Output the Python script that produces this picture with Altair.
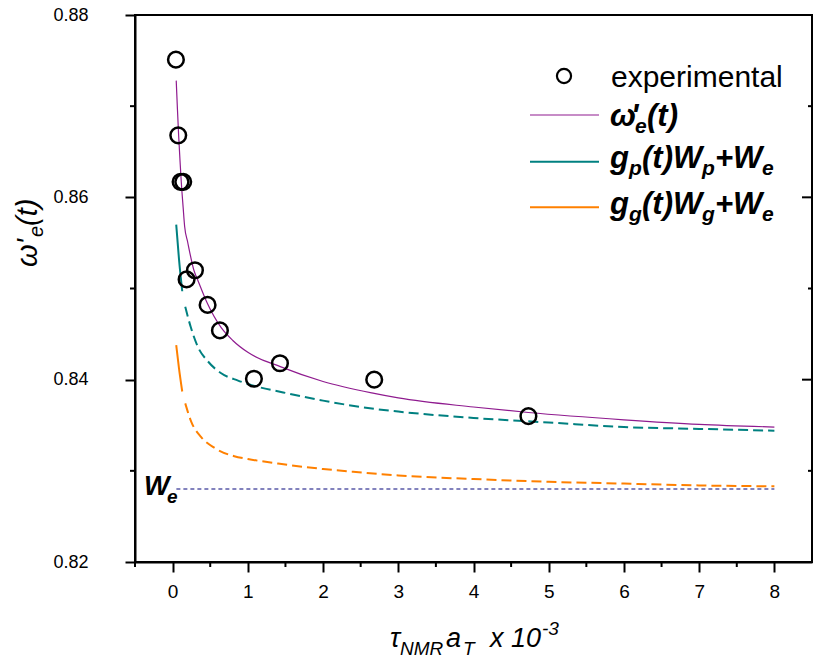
import altair as alt
import pandas as pd

FONT = "Liberation Sans"
W, H = 677, 547

# experimental points
exp_x = [0.044, 0.075, 0.106, 0.141, 0.186, 0.297, 0.465, 0.629, 1.081, 1.427, 2.68, 4.73]
exp_y = [0.8751, 0.8668, 0.8617, 0.8617, 0.8510, 0.8520, 0.8482, 0.8454, 0.8401, 0.8418, 0.8400, 0.8360]

# omega'_e(t) curve
om_x = [0.048, 0.064, 0.08, 0.10, 0.115, 0.14, 0.16, 0.2, 0.283, 0.34, 0.46, 0.646, 0.8, 1.0, 1.44,
        2.0, 2.68, 3.0, 4.0, 4.73, 6.0, 7.0, 8.0]
om_y = [0.8728, 0.8697, 0.8668, 0.8638, 0.8617, 0.8589, 0.8568, 0.8551, 0.8520, 0.8508, 0.8484,
        0.8457, 0.8443, 0.8430, 0.8414, 0.8398, 0.8385, 0.8380, 0.8370, 0.8364, 0.8356, 0.8351, 0.8348]

# g_p(t)W_p + W_e curve (solid head + dashed tail)
gp_head_x = [0.048, 0.084, 0.128]
gp_head_y = [0.8570, 0.8533, 0.8497]
gp_x = [0.168, 0.24, 0.336, 0.47, 0.646, 0.87, 1.05, 1.47, 2.0, 2.68, 3.0, 4.0, 5.0, 6.0, 7.0, 8.0]
gp_y = [0.8480, 0.8458, 0.8436, 0.8420, 0.8407, 0.8399, 0.8394, 0.8386, 0.8377, 0.8368, 0.8365,
        0.8358, 0.8353, 0.8348, 0.8346, 0.8344]

# g_g(t)W_g + W_e curve
gg_head_x = [0.048, 0.084, 0.128]
gg_head_y = [0.8438, 0.8413, 0.8387]
gg_x = [0.168, 0.247, 0.38, 0.56, 0.82, 1.0, 1.4, 2.0, 2.4, 3.0, 4.0, 5.0, 6.0, 7.0, 8.0]
gg_y = [0.8374, 0.8354, 0.8337, 0.8325, 0.8316, 0.8313, 0.8308, 0.8302, 0.8299, 0.8295, 0.8291,
        0.8288, 0.8286, 0.8284, 0.8283]

# W_e level
we_x = [0.05, 8.0]
we_y = [0.828, 0.828]

x_major = [0, 1, 2, 3, 4, 5, 6, 7, 8]
x_minor = [-0.5, 0.5, 1.5, 2.5, 3.5, 4.5, 5.5, 6.5, 7.5]
y_major = [0.82, 0.84, 0.86, 0.88]
y_minor = [0.83, 0.85, 0.87]

C_OM = "#8f1b8f"
C_GP = "#008080"
C_GG = "#ff8000"
C_WE = "#5a5aa8"

X = alt.X("x:Q", scale=alt.Scale(domain=[-0.5, 8.5], nice=False, zero=False),
          axis=alt.Axis(values=x_major, tickSize=10, tickWidth=2, domainWidth=2,
                        domainColor="black", tickColor="black", labelFontSize=19,
                        labelFont=FONT, labelColor="black", labelPadding=10, grid=False,
                        title=None, labelFlush=False))
Y = alt.Y("y:Q", scale=alt.Scale(domain=[0.82, 0.88], nice=False, zero=False),
          axis=alt.Axis(values=y_major, format=".2f", tickSize=10, tickWidth=2, domainWidth=2,
                        domainColor="black", tickColor="black", labelFontSize=18,
                        labelFont=FONT, labelColor="black", labelPadding=37, grid=False,
                        title=None, labelFlush=False))


def df(xs, ys):
    return pd.DataFrame({"x": xs, "y": ys})


def line(xs, ys, color, width, dash=None):
    kw = dict(color=color, strokeWidth=width, interpolate="monotone")
    if dash:
        kw["strokeDash"] = dash
    return alt.Chart(df(xs, ys)).mark_line(**kw).encode(x=X, y=Y)


def txt(s, x, y, size, style="normal", weight="normal", angle=0, align="left"):
    kw = dict(align=align, baseline="alphabetic", fontSize=size, fontStyle=style,
              fontWeight=weight, font=FONT, color="black")
    if angle:
        kw["angle"] = angle
    return alt.Chart(pd.DataFrame({"t": [s]})).mark_text(**kw).encode(
        text="t:N", x=alt.value(x), y=alt.value(y))


one = pd.DataFrame({"a": [0]})

layers = []
# minor ticks and right-side ticks
layers.append(alt.Chart(pd.DataFrame({"x": x_minor})).mark_rule(color="black", strokeWidth=2)
              .encode(x=X, y=alt.value(H), y2=alt.value(H + 5)))
layers.append(alt.Chart(pd.DataFrame({"y": y_minor})).mark_rule(color="black", strokeWidth=2)
              .encode(y=Y, x=alt.value(-5), x2=alt.value(0)))
layers.append(alt.Chart(pd.DataFrame({"y": y_minor})).mark_rule(color="black", strokeWidth=2)
              .encode(y=Y, x=alt.value(W - 4), x2=alt.value(W)))
layers.append(alt.Chart(pd.DataFrame({"y": y_major})).mark_rule(color="black", strokeWidth=2)
              .encode(y=Y, x=alt.value(W - 10), x2=alt.value(W)))

# curves
layers.append(line(we_x, we_y, C_WE, 1.5, [4, 3]))
layers.append(line(gg_head_x, gg_head_y, C_GG, 2))
layers.append(line(gg_x, gg_y, C_GG, 2, [10, 5]))
layers.append(line(gp_head_x, gp_head_y, C_GP, 2))
layers.append(line(gp_x, gp_y, C_GP, 2, [10, 5]))
layers.append(line(om_x, om_y, C_OM, 1.2))
layers.append(alt.Chart(df(exp_x, exp_y)).mark_point(shape="circle", filled=False, size=245,
                                                      strokeWidth=2.5, color="black", opacity=1)
              .encode(x=X, y=Y))

# legend
layers.append(alt.Chart(one).mark_point(shape="circle", filled=False, size=200, strokeWidth=2.2,
                                        color="black", opacity=1)
              .encode(x=alt.value(429), y=alt.value(61)))
for yy, cc, ww in [(100, C_OM, 1.2), (146.7, C_GP, 2), (192.3, C_GG, 2)]:
    layers.append(alt.Chart(one).mark_rule(color=cc, strokeWidth=ww)
                  .encode(x=alt.value(395), x2=alt.value(464), y=alt.value(yy)))

BI = dict(style="italic", weight="bold")
layers.append(txt("experimental", 476, 72, 30))
# row 2: omega'_e(t)
layers.append(txt("ω", 475, 111, 31, **BI))
layers.append(txt("'", 496, 111, 31, **BI))
layers.append(txt("e", 500, 118, 21, **BI))
layers.append(txt("(t)", 512, 111, 31, **BI))
# row 3: g_p(t)W_p+W_e and row 4: g_g(t)W_g+W_e
for base, sub in [(153, "p"), (199, "g")]:
    layers.append(txt("g", 475, base, 31, **BI))
    layers.append(txt(sub, 494, base + 7, 21, **BI))
    layers.append(txt("(t)W", 507, base, 31, **BI))
    layers.append(txt(sub, 567, base + 7, 21, **BI))
    layers.append(txt("+W", 580, base, 31, **BI))
    layers.append(txt("e", 627, base + 7, 21, **BI))

# W_e label
layers.append(txt("W", 9, 480, 27, **BI))
layers.append(txt("e", 32, 488, 19, **BI))

# x axis title: tau_NMR a_T x 10^-3
layers.append(txt("τ", 255, 632, 27, style="italic"))
layers.append(txt("NMR", 265, 640, 19, style="italic"))
layers.append(txt("a", 311, 632, 27, style="italic"))
layers.append(txt("T", 328, 640, 19, style="italic"))
layers.append(txt("x 10", 355, 632, 27, style="italic"))
layers.append(txt("-3", 407, 620, 19, style="italic"))

# y axis title: omega'_e(t) rotated
layers.append(txt("ω'", -98, 252, 29, style="italic", angle=270))
layers.append(txt("e", -92, 222, 20, style="italic", angle=270))
layers.append(txt("(t)", -98, 211, 29, style="italic", angle=270))

chart = alt.layer(*layers).properties(
    width=W, height=H,
    autosize=alt.AutoSizeParams(type="none"),
    padding={"left": 135, "top": 15, "right": 1, "bottom": 99},
    background="white",
).configure_view(stroke="black", strokeWidth=2)

chart.save("out.html", embed_options={"renderer": "svg", "actions": False})
